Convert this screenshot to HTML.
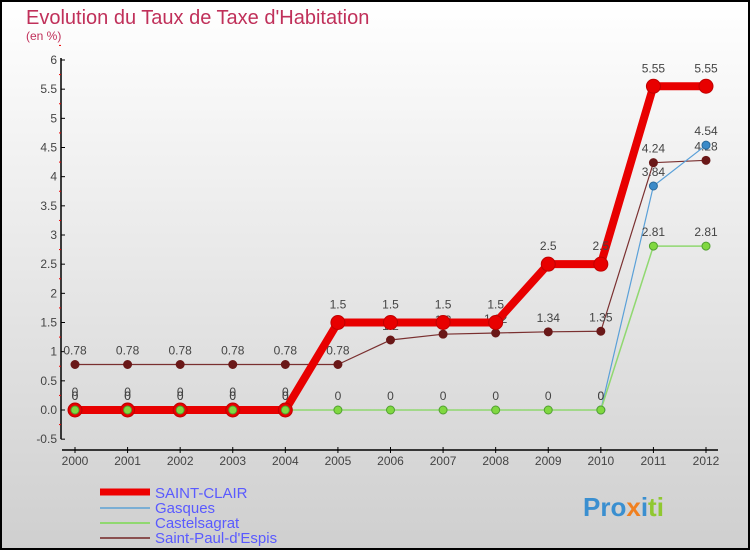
<!DOCTYPE html>
<html><head><meta charset="utf-8"><style>
body{margin:0;width:750px;height:550px;overflow:hidden;font-family:"Liberation Sans",sans-serif}
svg{display:block}
</style></head><body>
<svg id="chart" width="750" height="550" xmlns="http://www.w3.org/2000/svg">
<defs><linearGradient id="bg" x1="0" y1="0" x2="0" y2="1"><stop offset="0" stop-color="#ffffff"/><stop offset="1" stop-color="#cfcfcf"/></linearGradient></defs>
<rect x="1" y="1" width="748" height="548" fill="url(#bg)" stroke="#000" stroke-width="2"/>
<text x="26" y="24" font-size="20" fill="#c0305a">Evolution du Taux de Taxe d'Habitation</text>
<text x="26" y="40" font-size="12" fill="#c0305a">(en %)</text>
<g id="axes"></g>
<g id="series"></g>
<g>
<line x1="100" y1="492" x2="150" y2="492" stroke="#e00" stroke-width="7"/>
<text x="155" y="498" font-size="15" fill="#5a5aff">SAINT-CLAIR</text>
<line x1="100" y1="508" x2="150" y2="508" stroke="#7aaed4" stroke-width="2"/>
<text x="155" y="513" font-size="15" fill="#5a5aff">Gasques</text>
<line x1="100" y1="523" x2="150" y2="523" stroke="#90d870" stroke-width="2"/>
<text x="155" y="528" font-size="15" fill="#5a5aff">Castelsagrat</text>
<line x1="100" y1="538" x2="150" y2="538" stroke="#8a5050" stroke-width="2"/>
<text x="155" y="543" font-size="15" fill="#5a5aff">Saint-Paul-d'Espis</text>
</g>
<text x="583" y="516" font-size="26" font-weight="bold"><tspan fill="#3a8fd0">Pro</tspan><tspan fill="#f08020">x</tspan><tspan fill="#3a8fd0">i</tspan><tspan fill="#90c830">ti</tspan></text>
</svg>
<script>
const years=[2000,2001,2002,2003,2004,2005,2006,2007,2008,2009,2010,2011,2012];
const yTicks=[-0.5,0,0.5,1,1.5,2,2.5,3,3.5,4,4.5,5,5.5,6];
const saintClair=[0,0,0,0,0,1.5,1.5,1.5,1.5,2.5,2.5,5.55,5.55];
const gasques=[0,0,0,0,0,null,null,null,null,null,0,3.84,4.54];
const castelsagrat=[0,0,0,0,0,0,0,0,0,0,0,2.81,2.81];
const saintPaul=[0.78,0.78,0.78,0.78,0.78,0.78,1.2,1.3,1.32,1.34,1.35,4.24,4.28];
const NS="http://www.w3.org/2000/svg";
const X=y=>75+(y-2000)*(706-75)/12;
const Y=v=>410-v*(350/6);
function mk(tag,attrs,parent){const e=document.createElementNS(NS,tag);for(const k in attrs)e.setAttribute(k,attrs[k]);parent.appendChild(e);return e;}
const ax=document.getElementById('axes');
let yl=mk('line',{x1:61,y1:58,x2:61,y2:Y(-0.5),stroke:'#000','stroke-width':1.5},ax);


yTicks.forEach(t=>{
 mk('line',{x1:61,y1:Y(t),x2:65,y2:Y(t),stroke:'#000'},ax);
 mk('line',{x1:59,y1:Y(t+0.25),x2:61,y2:Y(t+0.25),stroke:'#e00'},ax);
 const tx=mk('text',{x:57,y:Y(t)+4,'font-size':12,'text-anchor':'end',fill:'#444'},ax);
 tx.textContent=(t===0?'0.0':String(t));
 
 
});
let xl=mk('line',{x1:62,y1:450,x2:718,y2:450,stroke:'#000','stroke-width':1.5},ax);


years.forEach(y=>{
 mk('line',{x1:X(y),y1:447,x2:X(y),y2:453,stroke:'#000'},ax);
 const tx=mk('text',{x:X(y),y:465,'font-size':12,'text-anchor':'middle',fill:'#444'},ax);
 tx.textContent=y;
 
 
});
const sg=document.getElementById('series');
function series(vals,name,color,lw,r,fill,stroke,labelOff){
 const g=mk('g',{},sg);
 
 
 let segs=[],cur=[];
 vals.forEach((v,i)=>{if(v===null){if(cur.length)segs.push(cur);cur=[];}else cur.push(X(years[i])+','+Y(v));});
 if(cur.length)segs.push(cur);
 segs.forEach(s=>mk('polyline',{points:s.join(' '),fill:'none',stroke:color,'stroke-width':lw,'stroke-linejoin':'round'},g));
 vals.forEach((v,i)=>{if(v===null)return;
  const c=mk('circle',{cx:X(years[i]),cy:Y(v),r:r,fill:fill,stroke:stroke,'stroke-width':1},g);
  
  
  const t=mk('text',{x:X(years[i]),y:Y(v)-labelOff,'font-size':12,'text-anchor':'middle',fill:'#444'},g);
  t.textContent=String(v);
  
  
 });
}
series(saintPaul,'saint-paul-d-espis','#7a3030',1.2,4,'#6a1818','#6a1818',10);
series(gasques,'gasques','#5aa0d8',1.2,4,'#3a8ac8','#2a6a9a',10);
series(castelsagrat,'castelsagrat','#90d870',1.5,4,'#80d840','#50a030',10);
series(saintClair,'saint-clair','#e80000',8,7,'#e80000','#c00000',14);
// redraw castelsagrat points on top of saint-clair at zero
castelsagrat.forEach((v,i)=>{if(v===0&&saintClair[i]===0){
 const c=mk('circle',{cx:X(years[i]),cy:Y(v),r:4,fill:'#80d840',stroke:'#50a030'},sg);
 
 
}});
</script>
</body></html>
